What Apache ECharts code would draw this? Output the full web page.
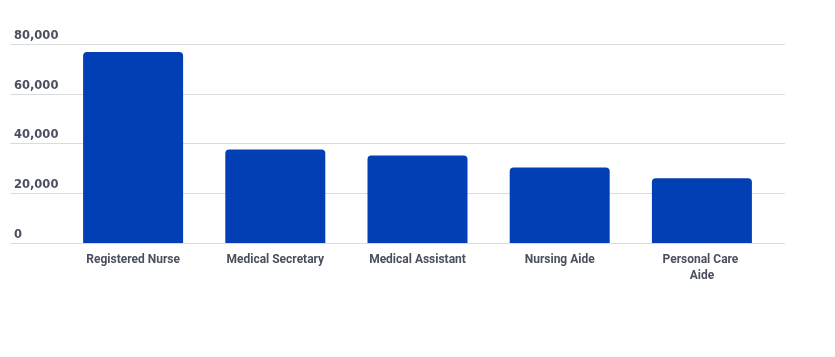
<!DOCTYPE html>
<html>
<head>
<meta charset="utf-8">
<script src="https://cdn.jsdelivr.net/npm/echarts@6/dist/echarts.min.js"></script>
<style>
html,body{margin:0;padding:0;background:#fff;}
#chart{width:835px;height:357px;}
</style>
</head>
<body>
<div id="chart"></div>
<script>
const categories = ['Registered Nurse', 'Medical Secretary', 'Medical Assistant', 'Nursing Aide', 'Personal Care Aide'];
const values = [76800, 37600, 35200, 30400, 26000];
const yTicks = { min: 0, max: 80000, interval: 20000 };

const chart = echarts.init(document.getElementById('chart'), null, { renderer: 'canvas' });
const textColor = '#4b4f5e';
chart.setOption({
  animation: false,
  grid: [
    { left: 10, right: 50, top: 44, bottom: 114 },
    { left: 62, width: 711, top: 44, bottom: 114 }
  ],
  xAxis: [
    { gridIndex: 0, type: 'value', show: false, min: 0, max: 1 },
    {
      gridIndex: 1, type: 'category', data: categories,
      axisLine: { show: false }, axisTick: { show: false },
      axisLabel: {
        interval: 0, margin: 9, color: textColor,
        fontFamily: 'Roboto', fontWeight: 'bold', fontSize: 12,
        lineHeight: 16, width: 100, overflow: 'break'
      }
    }
  ],
  yAxis: [
    {
      gridIndex: 0, type: 'value', min: yTicks.min, max: yTicks.max, interval: yTicks.interval,
      axisLine: { show: false }, axisTick: { show: false },
      splitLine: { lineStyle: { color: '#d9dbdf', width: 1 } },
      axisLabel: {
        inside: true, margin: 4, verticalAlign: 'bottom', padding: [0, 0, 2, 0],
        color: textColor, fontFamily: 'DejaVu Sans', fontWeight: 'bold', fontSize: 11.5,
        formatter: v => v.toLocaleString('en-US')
      }
    },
    {
      gridIndex: 1, type: 'value', min: yTicks.min, max: yTicks.max, interval: yTicks.interval,
      show: false, splitLine: { show: false }
    }
  ],
  series: [{
    type: 'bar', xAxisIndex: 1, yAxisIndex: 1,
    data: values, barWidth: 100,
    itemStyle: { color: '#023fb4', borderRadius: [4, 4, 0, 0] }
  }]
});
</script>
</body>
</html>
